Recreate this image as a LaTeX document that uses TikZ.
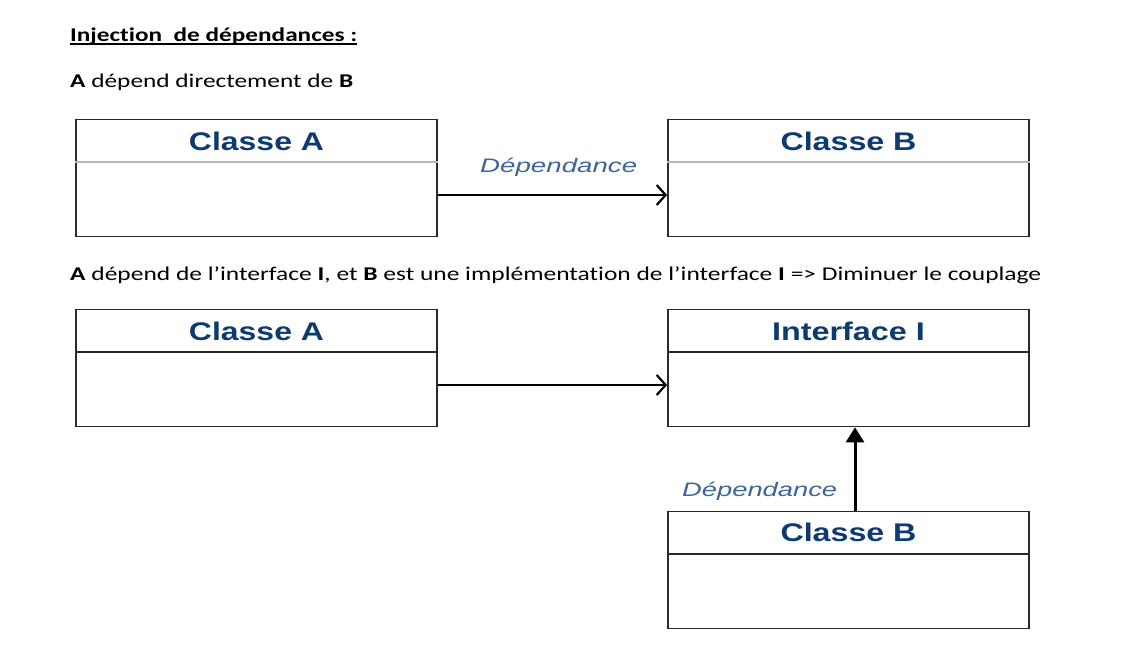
\documentclass[tikz,border=0pt]{standalone}
\usepackage{fontspec}
\usepackage{graphicx}
\setmainfont{Carlito}[Ligatures=NoCommon]
\newfontfamily\arialf{Liberation Sans}
\usetikzlibrary{arrows.meta}
\definecolor{titleblue}{HTML}{0D3B70}
\definecolor{labelblue}{HTML}{3E6499}
\definecolor{framecol}{HTML}{2A2A2A}
\definecolor{divgray}{HTML}{B8B8B8}
\begin{document}
\begin{tikzpicture}[x=1pt,y=-1pt,
  classbox/.style={draw=framecol, line width=1.7pt, minimum width=361pt, minimum height=117pt, inner sep=0pt},
  classtitle/.style={anchor=base, text=titleblue, font=\arialf\fontsize{25.5}{30}\selectfont\bfseries, inner sep=0pt},
  deplabel/.style={anchor=base west, text=labelblue, font=\arialf\fontsize{19.5}{23}\selectfont\itshape, inner sep=0pt},
  textline/.style={anchor=base west, font=\fontsize{19.5}{22}\selectfont, inner sep=0pt},
  divlight/.style={draw=divgray, line width=1.8pt},
  divdark/.style={draw=framecol, line width=1.4pt},
  depopen/.style={line width=2.2pt, -{Straight Barb[length=9pt,width=20pt,line width=2.2pt]}},
  depfilled/.style={line width=3pt, -{Triangle[length=15pt,width=18pt]}}
]
\fill[white] (0,0) rectangle (1126,648);
\useasboundingbox (0,0) rectangle (1126,648);

% texts
\node[textline] (head) at (70,41) {\resizebox{287pt}{\height}{\bfseries Injection\ \ de dépendances :}};
\draw[line width=1.8pt] ([yshift=-3pt]head.base west) -- ([yshift=-3pt]head.base east);
\node[textline] (l1) at (70,87) {\resizebox{283pt}{\height}{\textbf{A} dépend directement de \textbf{B}}};
\node[textline] (l2) at (70,280) {\resizebox{971pt}{\height}{\textbf{A} dépend de l’interface \textbf{I}, et \textbf{B} est une implémentation de l’interface \textbf{I} => Diminuer le couplage}};

% top row
\node[classbox] (a1) at (256.5,178) {};
\node[classbox] (b1) at (848.5,178) {};
\draw[divlight] ([yshift=-43.5pt]a1.north west) -- ([yshift=-43.5pt]a1.north east);
\draw[divlight] ([yshift=-43.5pt]b1.north west) -- ([yshift=-43.5pt]b1.north east);
\node[classtitle] (ta1) at ([yshift=-32pt]a1.north) {\resizebox{135pt}{\height}{Classe A}};
\node[classtitle] (tb1) at ([yshift=-32pt]b1.north) {\resizebox{136pt}{\height}{Classe B}};
\draw[depopen] ([yshift=-17pt]a1.east) -- ([yshift=-17pt]b1.west);
\node[deplabel] (d1) at (480,172) {\resizebox{157pt}{\height}{Dépendance}};

% bottom row
\node[classbox] (a2) at (256.5,368) {};
\node[classbox] (i2) at (848.5,368) {};
\node[classbox] (b2) at (848.5,570) {};
\draw[divdark] ([yshift=-43.5pt]a2.north west) -- ([yshift=-43.5pt]a2.north east);
\draw[divdark] ([yshift=-43.5pt]i2.north west) -- ([yshift=-43.5pt]i2.north east);
\draw[divdark] ([yshift=-43.5pt]b2.north west) -- ([yshift=-43.5pt]b2.north east);
\node[classtitle] (ta2) at ([yshift=-32pt]a2.north) {\resizebox{135pt}{\height}{Classe A}};
\node[classtitle] (ti2) at ([yshift=-32pt]i2.north) {\resizebox{153pt}{\height}{Interface I}};
\node[classtitle] (tb2) at ([yshift=-31pt]b2.north) {\resizebox{136pt}{\height}{Classe B}};
\draw[depopen] ([yshift=-17pt]a2.east) -- ([yshift=-17pt]i2.west);
\draw[depfilled] ([xshift=6.5pt]b2.north) -- ([xshift=6.5pt]i2.south);
\node[deplabel] (d2) at (682,496) {\resizebox{155pt}{\height}{Dépendance}};
\end{tikzpicture}
\end{document}
